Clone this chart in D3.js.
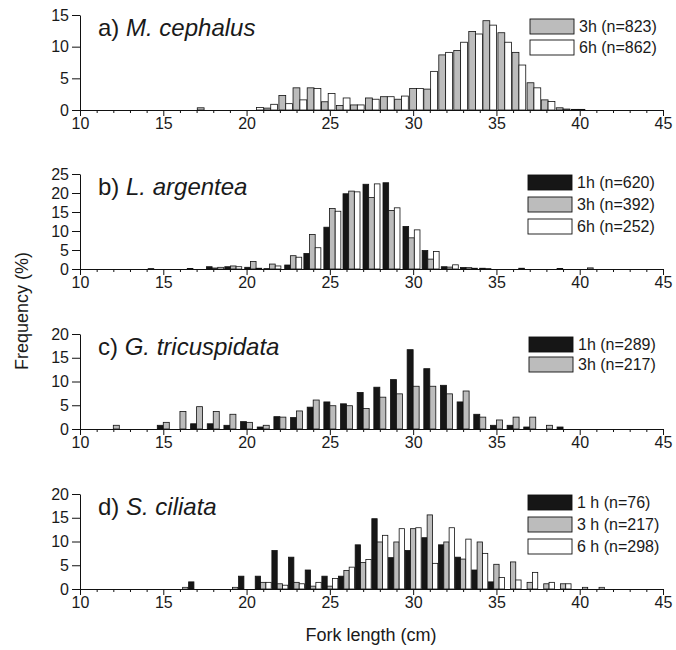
<!DOCTYPE html>
<html><head><meta charset="utf-8">
<script src="https://cdn.jsdelivr.net/npm/d3@7"></script>
<style>body{margin:0;background:#fff}svg{display:block}text{font-family:"Liberation Sans",Arial,Helvetica,sans-serif;fill:#1a1a1a}</style>
</head><body>
<script>
// ---- data ----
const xTicks = [10, 15, 20, 25, 30, 35, 40, 45];
// a) M. cephalus
const aBins = [17.45, 20.6, 21.45, 22.35, 23.2, 24.05, 24.9, 25.8, 26.65, 27.55, 28.45, 29.3, 30.2, 31.05, 31.95, 32.85, 33.75, 34.6, 35.5, 36.35, 37.25, 38.1, 39.0, 39.9];
const a3h = [0.35, 0, 0.3, 2.3, 3.5, 3.5, 1.3, 0.7, 0.8, 1.9, 2.1, 1.7, 3.4, 3.3, 8.7, 9.4, 12.4, 14.1, 12.2, 9.1, 4.3, 1.6, 0.35, 0.1];
const a6h = [0, 0.4, 0.9, 1.0, 1.6, 3.4, 2.6, 1.9, 0.8, 1.7, 2.1, 2.2, 3.4, 6.1, 9.1, 10.7, 12.0, 13.4, 10.7, 7.1, 3.5, 1.35, 0.15, 0.1];
// b) L. argentea
const bBins = [14.6, 16.95, 18.1, 19.2, 20.4, 21.55, 22.8, 23.95, 25.15, 26.3, 27.5, 28.7, 29.9, 31.05, 32.2, 33.35, 34.5, 36.85, 39.15, 40.3];
const b1h = [0.1, 0.15, 0.6, 0.6, 0.45, 0.1, 1.05, 4.1, 11.0, 19.8, 22.3, 22.7, 11.2, 4.85, 0.6, 0.4, 0.2, 0.2, 0.15, 0];
const b3h = [0, 0, 0.26, 0.8, 1.95, 1.3, 3.5, 9.1, 15.9, 20.5, 18.8, 15.4, 8.2, 2.6, 0.5, 0.35, 0.1, 0, 0, 0];
const b6h = [0, 0, 0.44, 0.6, 0.2, 0.8, 3.1, 5.6, 15.2, 20.3, 22.4, 16.1, 10.3, 4.6, 1.1, 0.2, 0, 0, 0, 0.3];
// c) G. tricuspidata
const cBins = [12, 15, 16, 17, 18, 19, 20, 21, 22, 23, 24, 25, 26, 27, 28, 29, 30, 31, 32, 33, 34, 35, 36, 37, 38, 39];
const c1h = [0, 0.78, 0, 1.1, 1.1, 0.78, 1.55, 0.42, 2.6, 2.4, 4.6, 5.7, 5.3, 7.7, 8.8, 10.4, 16.7, 12.7, 9.2, 5.7, 3.1, 0.78, 0.78, 0.42, 0, 0.42];
const c3h = [0.78, 1.4, 3.7, 4.7, 3.7, 3.1, 1.4, 0.78, 2.5, 3.8, 6.1, 4.9, 4.9, 4.3, 6.7, 7.4, 9.0, 9.0, 7.4, 8.0, 2.5, 1.9, 2.5, 2.5, 0.78, 0];
// d) S. ciliata
const dBins = [16, 17, 19, 20, 21, 22, 23, 24, 25, 26, 27, 28, 29, 30, 31, 32, 33, 34, 35, 36, 37, 38, 39, 40, 41];
const d1h = [0, 1.5, 0, 2.7, 2.7, 8.1, 6.7, 4.0, 2.7, 2.7, 9.3, 14.8, 6.6, 8.1, 10.8, 9.3, 6.7, 4.0, 1.5, 0, 0, 0, 0, 0, 0];
const d3h = [0, 0, 0, 0, 1.4, 1.1, 1.4, 0.6, 0.6, 3.9, 5.6, 9.9, 9.9, 12.7, 15.6, 9.9, 6.3, 9.9, 5.2, 5.7, 1.4, 1.1, 1.1, 0, 0];
const d6h = [0.35, 0, 0.35, 0, 1.4, 0.8, 1.1, 1.4, 2.2, 4.6, 6.2, 11.3, 12.7, 12.9, 5.4, 12.9, 10.5, 7.5, 2.4, 1.9, 3.5, 1.4, 1.1, 0.35, 0.35];

const BLACK = "#161616", GRAY = "#bcbcbc", WHITE = "#ffffff";

const panels = [
  {top: 15, ymax: 15, yticks: [0,5,10,15], tag: "a) ", sp: "M. cephalus", bins: aBins, bw: 0.41,
   series: [{v: a3h, fill: GRAY, name: "3h (n=823)", off: -0.41}, {v: a6h, fill: WHITE, name: "6h (n=862)", off: 0}],
   leg: {x: 530, y: 4, dy: 21}},
  {top: 174, ymax: 25, yticks: [0,5,10,15,20,25], tag: "b) ", sp: "L. argentea", bins: bBins, bw: 0.34,
   series: [{v: b1h, fill: BLACK, name: "1h (n=620)", off: -0.51}, {v: b3h, fill: GRAY, name: "3h (n=392)", off: -0.17}, {v: b6h, fill: WHITE, name: "6h (n=252)", off: 0.17}],
   leg: {x: 528, y: 1, dy: 22}},
  {top: 334, ymax: 20, yticks: [0,5,10,15,20], tag: "c) ", sp: "G. tricuspidata", bins: cBins, bw: 0.36,
   series: [{v: c1h, fill: BLACK, name: "1h (n=289)", off: -0.36}, {v: c3h, fill: GRAY, name: "3h (n=217)", off: 0}],
   leg: {x: 529, y: 3, dy: 20}},
  {top: 494, ymax: 20, yticks: [0,5,10,15,20], tag: "d) ", sp: "S. ciliata", bins: dBins, bw: 0.32,
   series: [{v: d1h, fill: BLACK, name: "1 h (n=76)", off: -0.48}, {v: d3h, fill: GRAY, name: "3 h (n=217)", off: -0.16}, {v: d6h, fill: WHITE, name: "6 h (n=298)", off: 0.16}],
   leg: {x: 528, y: 1, dy: 22}}
];

const W = 676, H = 650, PH = 95;
const svg = d3.select("body").append("svg").attr("width", W).attr("height", H);
const x = d3.scaleLinear().domain([10, 45]).range([80, 663]);
const minorTicks = d3.range(10, 46).filter(v => v % 5 !== 0);

panels.forEach(p => {
  const y = d3.scaleLinear().domain([0, p.ymax]).range([p.top + PH, p.top]);
  const g = svg.append("g");
  // bars
  p.series.forEach(s => {
    g.selectAll(null).data(p.bins.map((b, i) => ({b, v: s.v[i]})).filter(d => d.v > 0))
      .enter().append("rect")
      .attr("x", d => x(d.b + s.off))
      .attr("width", d => x(d.b + s.off + p.bw) - x(d.b + s.off))
      .attr("y", d => y(d.v))
      .attr("height", d => y(0) - y(d.v))
      .attr("fill", s.fill).attr("stroke", "#111").attr("stroke-width", 0.8);
  });
  // axes
  const ya = g.append("g").attr("transform", `translate(${x(10)},0)`)
    .call(d3.axisLeft(y).tickValues(p.yticks).tickSize(8).tickPadding(3).tickSizeOuter(0));
  const xa = g.append("g").attr("transform", `translate(0,${y(0)})`)
    .call(d3.axisBottom(x).tickValues(xTicks).tickSize(6).tickPadding(2).tickSizeOuter(0));
  const xm = g.append("g").attr("transform", `translate(0,${y(0)})`)
    .call(d3.axisBottom(x).tickValues(minorTicks).tickSize(3).tickFormat("").tickSizeOuter(0));
  xm.select(".domain").remove();
  [ya, xa, xm].forEach(a => {
    a.selectAll("path,line").attr("stroke", "#111").attr("stroke-width", 1);
    a.selectAll("text").attr("font-size", 16).attr("fill", "#1a1a1a")
      .attr("font-family", '"Liberation Sans",Arial,sans-serif');
  });
  // title
  const t = g.append("text").attr("x", 98).attr("y", p.top + 21).attr("font-size", 24);
  t.append("tspan").text(p.tag);
  t.append("tspan").attr("font-style", "italic").text(p.sp);
  // legend
  p.series.forEach((s, i) => {
    const ly = p.top + p.leg.y + i * p.leg.dy;
    g.append("rect").attr("x", p.leg.x).attr("y", ly).attr("width", 44).attr("height", 15)
      .attr("fill", s.fill).attr("stroke", "#111").attr("stroke-width", 0.9);
    g.append("text").attr("x", p.leg.x + 49).attr("y", ly + 7.5).attr("dy", "0.36em")
      .attr("font-size", 16).text(s.name);
  });
});

svg.append("text").attr("transform", "translate(22,311) rotate(-90)")
  .attr("text-anchor", "middle").attr("dy", "0.36em").attr("font-size", 18).text("Frequency (%)");
svg.append("text").attr("x", 371).attr("y", 641).attr("text-anchor", "middle")
  .attr("font-size", 18).text("Fork length (cm)");
</script>
</body></html>
